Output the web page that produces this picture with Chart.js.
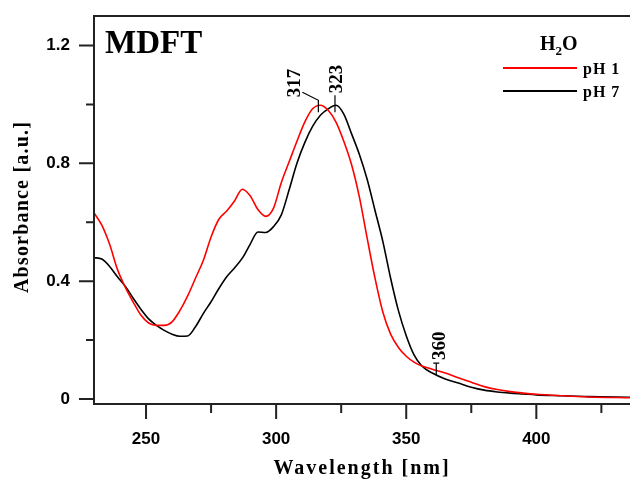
<!DOCTYPE html>
<html>
<head>
<meta charset="utf-8">
<script src="https://cdn.jsdelivr.net/npm/chart.js@4.4.1/dist/chart.umd.min.js"></script>
<style>
  html, body { margin: 0; padding: 0; background: #fff; }
</style>
</head>
<body>
<canvas id="myChart" width="630" height="480"></canvas>
<script>
// wavelength grid [nm]
const wavelength = [230, 233, 236, 239, 242, 245, 248, 251, 254, 257, 260, 263, 266, 269, 272, 275, 278, 281, 284, 287,
  290, 293, 296, 299, 302, 305, 308, 311, 314, 317, 320, 323, 326, 329, 332, 335, 338, 341, 344, 347,
  350, 353, 356, 360, 365, 370, 375, 380, 385, 390, 395, 400, 410, 420, 436];

// absorbance, pH 1 (red)
const absPH1 = [0.632, 0.59, 0.525, 0.44, 0.38, 0.33, 0.285, 0.258, 0.25, 0.25, 0.262, 0.3, 0.35, 0.41, 0.47, 0.55, 0.61, 0.638, 0.672, 0.712,
  0.69, 0.643, 0.62, 0.648, 0.735, 0.805, 0.875, 0.94, 0.985, 0.997, 0.98, 0.94, 0.875, 0.795, 0.685, 0.545, 0.41, 0.295, 0.22, 0.175,
  0.145, 0.125, 0.112, 0.101, 0.088, 0.072, 0.057, 0.042, 0.032, 0.025, 0.02, 0.016, 0.011, 0.007, 0.004];

// absorbance, pH 7 (black)
const absPH7 = [0.48, 0.475, 0.45, 0.415, 0.383, 0.343, 0.305, 0.272, 0.25, 0.233, 0.22, 0.213, 0.214, 0.245, 0.29, 0.33, 0.375, 0.415, 0.445, 0.478,
  0.525, 0.567, 0.565, 0.585, 0.625, 0.71, 0.8, 0.87, 0.925, 0.963, 0.985, 0.997, 0.967, 0.9, 0.83, 0.745, 0.64, 0.535, 0.41, 0.3,
  0.215, 0.15, 0.112, 0.088, 0.068, 0.054, 0.04, 0.03, 0.024, 0.02, 0.017, 0.014, 0.011, 0.008, 0.006];

const xTickLabels = [250, 300, 350, 400];
const xMinorTicks = [275, 325, 375, 425];
const yTickLabels = [0, 0.4, 0.8, 1.2];
const yMinorTicks = [0.2, 0.6, 1.0];

// marked peaks: wavelength and which series it sits on
const markWavelengths = [317, 323, 360];
const markSeries = [0, 1, 1];

const serif = '"Liberation Serif", "Times New Roman", serif';
const sans = '"Liberation Sans", Arial, sans-serif';

const decorations = {
  id: 'decorations',
  afterDraw(chart) {
    const c = chart.ctx;
    const xs = chart.scales.x;
    const ys = chart.scales.y;
    const a = chart.chartArea;
    c.save();

    // frame
    c.strokeStyle = '#222';
    c.lineWidth = 2;
    c.beginPath();
    c.moveTo(a.left, a.top);
    c.lineTo(a.right, a.top);
    c.moveTo(a.left, a.top - 1);
    c.lineTo(a.left, a.bottom + 1);
    c.moveTo(a.left, a.bottom);
    c.lineTo(a.right, a.bottom);
    c.stroke();

    // ticks
    c.beginPath();
    xTickLabels.forEach(v => { const p = xs.getPixelForValue(v); c.moveTo(p, a.bottom); c.lineTo(p, a.bottom + 15); });
    xMinorTicks.forEach(v => { const p = xs.getPixelForValue(v); c.moveTo(p, a.bottom); c.lineTo(p, a.bottom + 9); });
    yTickLabels.forEach(v => { const p = ys.getPixelForValue(v); c.moveTo(a.left, p); c.lineTo(a.left - 15, p); });
    yMinorTicks.forEach(v => { const p = ys.getPixelForValue(v); c.moveTo(a.left, p); c.lineTo(a.left - 8, p); });
    c.stroke();

    // axis titles
    c.fillStyle = '#000';
    c.font = 'bold 20px ' + serif;
    c.letterSpacing = '2px';
    c.textAlign = 'center';
    c.textBaseline = 'alphabetic';
    c.fillText('Wavelength [nm]', (a.left + a.right) / 2, 474);
    c.letterSpacing = '1.2px';
    c.save();
    c.translate(28, 207);
    c.rotate(-Math.PI / 2);
    c.fillText('Absorbance [a.u.]', 0, 0);
    c.restore();
    c.letterSpacing = '0px';

    // panel label
    c.textAlign = 'left';
    c.font = 'bold 33px ' + serif;
    c.fillText('MDFT', 105, 53);

    // legend
    c.font = 'bold 20px ' + serif;
    c.fillText('H', 540, 50);
    let hx = 540 + c.measureText('H').width;
    c.font = 'bold 13px ' + serif;
    c.fillText('2', hx, 55);
    hx += c.measureText('2').width;
    c.font = 'bold 20px ' + serif;
    c.fillText('O', hx, 50);

    c.font = 'bold 16px ' + serif;
    c.letterSpacing = '1px';
    chart.data.datasets.forEach((ds, i) => {
      const ly = 68 + i * 23;
      c.strokeStyle = ds.borderColor;
      c.lineWidth = 2;
      c.beginPath();
      c.moveTo(503, ly);
      c.lineTo(577, ly);
      c.stroke();
      c.fillText(ds.label, 583, ly + 6);
    });
    c.letterSpacing = '0px';

    // peak marks
    const series = [absPH1, absPH7];
    c.strokeStyle = '#000';
    c.lineWidth = 1.2;
    c.font = 'bold 19px ' + serif;
    markWavelengths.forEach((wl, k) => {
      const i = wavelength.indexOf(wl);
      const bx = xs.getPixelForValue(wl);
      const by = ys.getPixelForValue(series[markSeries[k]][i]);
      let tx, ty;
      c.beginPath();
      if (k === 0) {
        c.moveTo(bx - 2, by + 7); c.lineTo(bx - 2, by - 5); c.lineTo(bx - 18, by - 13);
        tx = bx - 20; ty = by - 8;
      } else if (k === 1) {
        c.moveTo(bx - 1, by + 7); c.lineTo(bx - 1, by - 10);
        tx = bx + 6; ty = by - 12;
      } else {
        c.moveTo(bx + 4, by + 2); c.lineTo(bx + 4, by - 10);
        c.moveTo(bx + 1, by - 10); c.lineTo(bx + 7, by - 10);
        tx = bx + 13; ty = by - 13;
      }
      c.stroke();
      c.save();
      c.translate(tx, ty);
      c.rotate(-Math.PI / 2);
      c.textAlign = 'left';
      c.fillText(String(wl), 0, 0);
      c.restore();
    });

    c.restore();
  }
};

const ctx = document.getElementById('myChart').getContext('2d');
const myChart = new Chart(ctx, {
  type: 'line',
  data: {
    datasets: [
      {
        label: 'pH 1',
        data: wavelength.map((w, i) => ({ x: w, y: absPH1[i] })),
        borderColor: 'rgba(255, 0, 0, 1)',
        borderWidth: 1.6,
        pointRadius: 0,
        cubicInterpolationMode: 'monotone',
      },
      {
        label: 'pH 7',
        data: wavelength.map((w, i) => ({ x: w, y: absPH7[i] })),
        borderColor: 'rgba(0, 0, 0, 1)',
        borderWidth: 1.6,
        pointRadius: 0,
        cubicInterpolationMode: 'monotone',
      },
    ],
  },
  options: {
    responsive: false,
    animation: false,
    layout: { padding: { top: 16, right: 0, bottom: 0, left: 0 } },
    plugins: {
      legend: { display: false },
      tooltip: { enabled: false },
    },
    scales: {
      x: {
        type: 'linear',
        min: 230,
        max: 436,
        grid: { display: false, drawTicks: false },
        border: { display: false },
        afterBuildTicks: s => { s.ticks = xTickLabels.map(v => ({ value: v })); },
        afterFit: s => { s.height = 76; s.paddingLeft = 0; s.paddingRight = 0; },
        ticks: {
          padding: 25,
          color: '#000',
          font: { family: sans, weight: 'bold', size: 17 },
          callback: v => String(v),
        },
      },
      y: {
        min: -0.017,
        max: 1.3,
        grid: { display: false, drawTicks: false },
        border: { display: false },
        afterBuildTicks: s => { s.ticks = yTickLabels.map(v => ({ value: v })); },
        afterFit: s => { s.width = 94; s.paddingTop = 0; s.paddingBottom = 0; },
        ticks: {
          padding: 24,
          color: '#000',
          font: { family: sans, weight: 'bold', size: 17 },
          callback: v => (v === 0 ? '0' : v.toFixed(1)),
        },
      },
    },
  },
  plugins: [decorations],
});
</script>
</body>
</html>
